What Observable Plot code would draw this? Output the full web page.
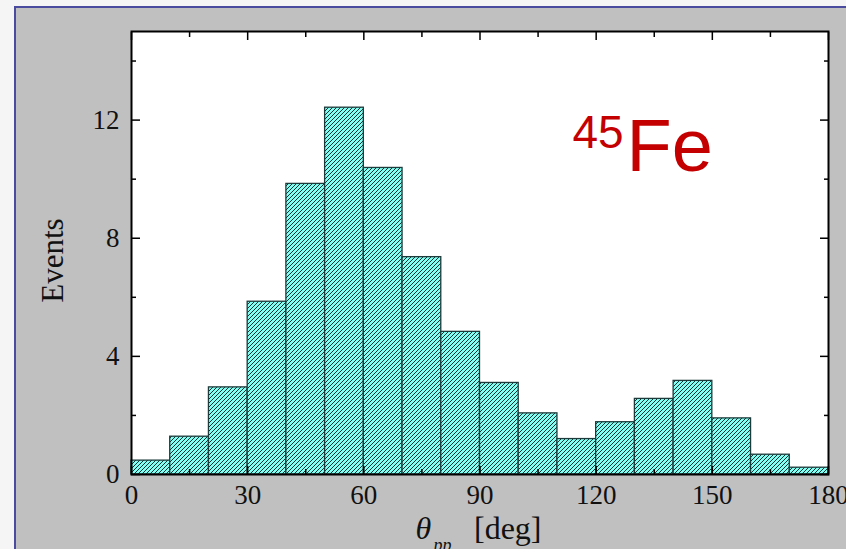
<!DOCTYPE html>
<html>
<head>
<meta charset="utf-8">
<script src="https://cdn.jsdelivr.net/npm/d3@7"></script>
<script src="https://cdn.jsdelivr.net/npm/@observablehq/plot@0.6"></script>
<style>
  html, body { margin: 0; padding: 0; background: #f5f5f5; width: 846px; height: 549px; overflow: hidden; }
  #panel {
    position: absolute; left: 14px; top: 6px; width: 830px; height: 541px;
    background: #c0c0c0; border-top: 2px solid #4a4a9e; border-left: 2px solid #4a4a9e;
  }
  #panel svg { display: block; }
</style>
</head>
<body>
<div id="panel"></div>
<script>
// Opening-angle distribution of the two protons, 10-degree bins
const thetaLow  = [0, 10, 20, 30, 40, 50, 60, 70, 80, 90, 100, 110, 120, 130, 140, 150, 160, 170];
const thetaHigh = [10, 20, 30, 40, 50, 60, 70, 80, 90, 100, 110, 120, 130, 140, 150, 160, 170, 180];
const events    = [0.47, 1.28, 2.95, 5.85, 9.84, 12.42, 10.38, 7.36, 4.83, 3.1, 2.07, 1.2, 1.77, 2.56, 3.17, 1.9, 0.67, 0.23];

const xTicks = [0, 30, 60, 90, 120, 150, 180];
const xMinorTicks = [15, 45, 75, 105, 135, 165];
const yTicks = [0, 4, 8, 12];
const yMinorTicks = [2, 6, 10, 14];

const nuclideMass = "45";
const nuclideSymbol = "Fe";
const yLabel = "Events";
const xLabelSymbol = "θ";
const xLabelSub = "pp";
const xLabelUnit = "[deg]";

const bins = thetaLow.map((lo, i) => ({lo, hi: thetaHigh[i], n: events[i]}));

const serif = "'Liberation Serif', 'Times New Roman', serif";
const sans = "'Liberation Sans', Arial, sans-serif";
const tickStyle = {tickFormat: () => "", label: null, stroke: "#000", strokeWidth: 1.5};

const chart = Plot.plot({
  width: 830,
  height: 541,
  marginLeft: 115,
  marginRight: 18,
  marginTop: 23,
  marginBottom: 75,
  style: {background: "transparent", fontFamily: serif, fontSize: "27px", color: "#111", overflow: "visible"},
  x: {domain: [0, 180], label: null},
  y: {domain: [0, 15], label: null},
  marks: [
    Plot.frame({fill: "white", stroke: null}),
    Plot.rectY(bins, {x1: "lo", x2: "hi", y: "n", fill: "url(#hatch)", stroke: "#1e3a3a", strokeWidth: 1.3}),
    // tick labels
    Plot.axisX(xTicks, {anchor: "bottom", tickSize: 0, tickPadding: 10, label: null, fontSize: 27}),
    Plot.axisY(yTicks, {anchor: "left", tickSize: 0, tickPadding: 12, label: null, fontSize: 27}),
    // inward ticks on all four sides
    Plot.axisX(xTicks, {anchor: "bottom", tickSize: -8, ...tickStyle}),
    Plot.axisX(xMinorTicks, {anchor: "bottom", tickSize: -5, ...tickStyle}),
    Plot.axisX(xTicks, {anchor: "top", tickSize: -8, ...tickStyle}),
    Plot.axisX(xMinorTicks, {anchor: "top", tickSize: -5, ...tickStyle}),
    Plot.axisY(yTicks, {anchor: "left", tickSize: -9, ...tickStyle}),
    Plot.axisY(yMinorTicks, {anchor: "left", tickSize: -5, ...tickStyle}),
    Plot.axisY(yTicks, {anchor: "right", tickSize: -9, ...tickStyle}),
    Plot.axisY(yMinorTicks, {anchor: "right", tickSize: -5, ...tickStyle}),
    Plot.frame({stroke: "#000", strokeWidth: 2}),
    // axis titles
    Plot.text([yLabel], {frameAnchor: "left", rotate: -90, dx: -69, dy: 7.5, textAnchor: "middle", lineAnchor: "bottom", fontSize: 31, fontFamily: serif, fill: "#111"}),
    Plot.text([xLabelSymbol], {frameAnchor: "bottom", dx: -64.5, dy: 64, textAnchor: "start", lineAnchor: "bottom", fontSize: 32, fontStyle: "italic", fontFamily: serif, fill: "#111"}),
    Plot.text([xLabelSub], {frameAnchor: "bottom", dx: -46.5, dy: 76, textAnchor: "start", lineAnchor: "bottom", fontSize: 18, fontStyle: "italic", fontFamily: serif, fill: "#111"}),
    Plot.text([xLabelUnit], {frameAnchor: "bottom", dx: -6, dy: 64, textAnchor: "start", lineAnchor: "bottom", fontSize: 32, fontFamily: serif, fill: "#111"}),
    // nuclide annotation
    Plot.text([nuclideMass], {frameAnchor: "top-left", dx: 441, dy: 116, textAnchor: "start", lineAnchor: "bottom", fontSize: 46, fontFamily: sans, fill: "#c40000"}),
    Plot.text([nuclideSymbol], {frameAnchor: "top-left", dx: 495, dy: 139, textAnchor: "start", lineAnchor: "bottom", fontSize: 74, fontFamily: sans, fill: "#c40000"})
  ]
});

// diagonal hatch used to fill the bars
const svg = d3.select(chart);
const pattern = svg.insert("defs", ":first-child")
  .append("pattern")
  .attr("id", "hatch")
  .attr("patternUnits", "userSpaceOnUse")
  .attr("width", 4)
  .attr("height", 4);
pattern.append("rect").attr("width", 4).attr("height", 4).attr("fill", "#80fff2");
pattern.append("path")
  .attr("d", "M-1,1L1,-1M0,4L4,0M3,5L5,3")
  .attr("stroke", "#173232")
  .attr("stroke-width", 1);

document.getElementById("panel").appendChild(chart);
</script>
</body>
</html>
